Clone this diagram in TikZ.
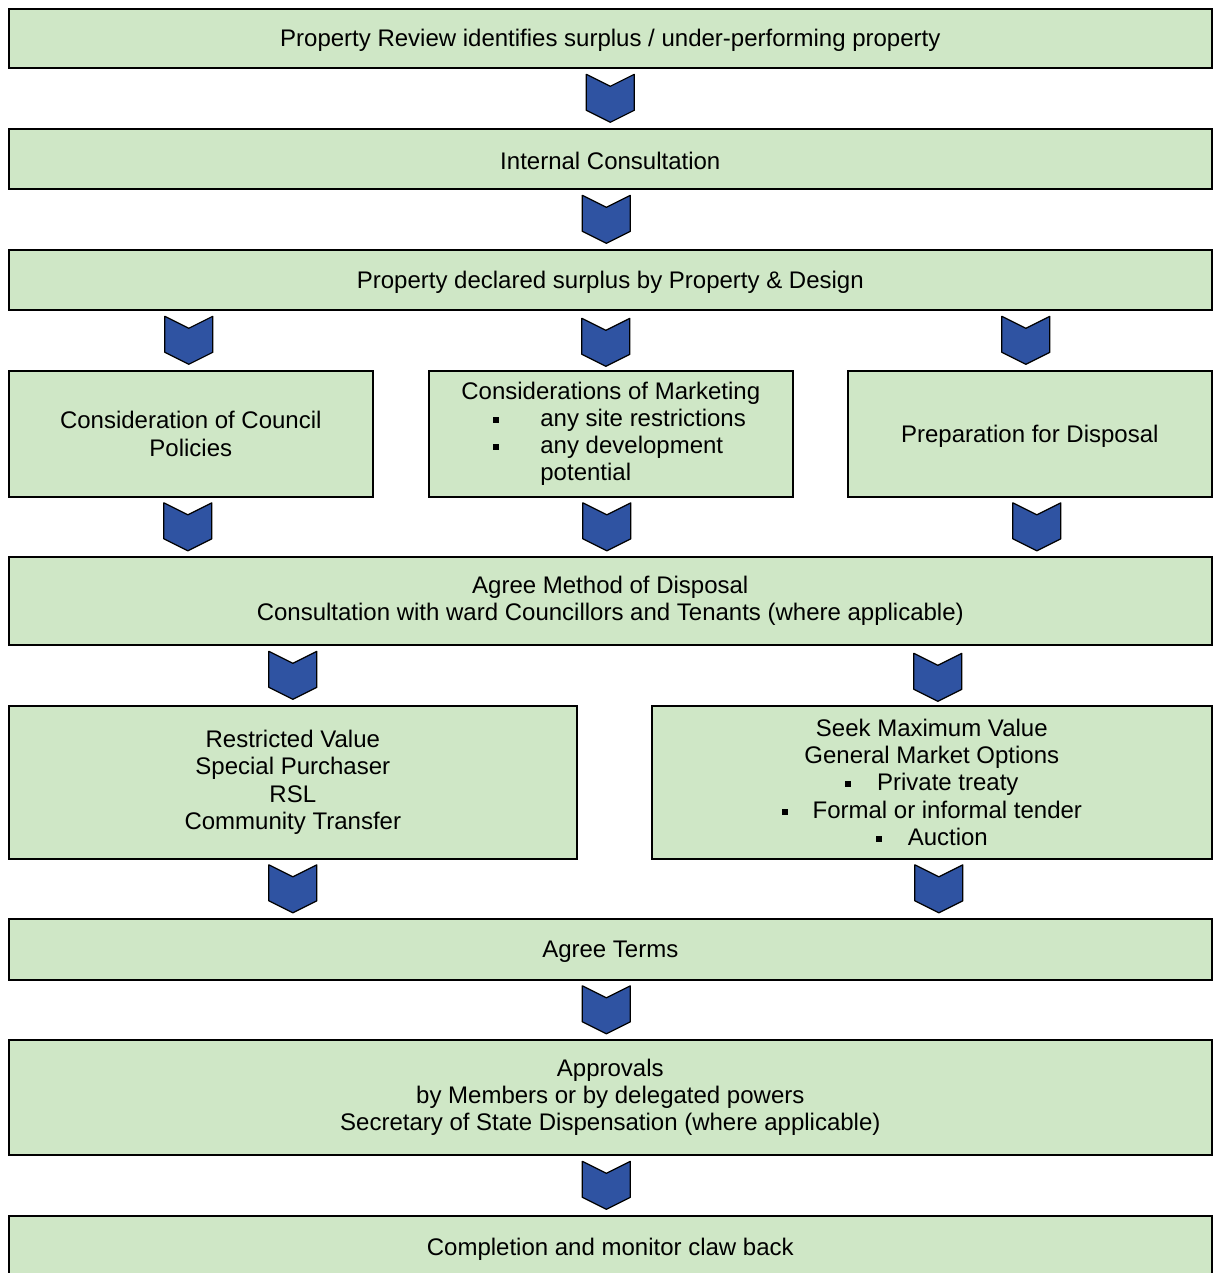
\documentclass[tikz,border=0pt]{standalone}
\usepackage{fontspec}
\setmainfont{Liberation Sans}
\usetikzlibrary{positioning,calc}

\definecolor{boxgreen}{RGB}{207,231,198}
\definecolor{chevblue}{RGB}{47,83,162}
\newcommand{\sqbul}{\rule[3.5pt]{6pt}{6pt}}

\tikzset{
  box/.style={draw, line width=1.6pt, fill=boxgreen, align=center,
    anchor=north west, inner sep=0pt,
    font=\fontsize{24}{27.3}\selectfont},
  oneline/.style={box, text height=21.5pt},
  chev/.pic={
    \draw[line width=1.2pt, fill=chevblue, line join=round]
      (-24,-24) -- (0,-12) -- (24,-24) -- (24,12) -- (0,24) -- (-24,12) -- cycle;
  }
}

\begin{document}
\begin{tikzpicture}[x=1pt,y=-1pt]
 \useasboundingbox (0,0) rectangle (1212,1273);
 % main column
 \node[oneline, minimum width=1203pt, minimum height=59pt] (review) at (8,8)
   {Property Review identifies surplus / under-performing property};
 \node[oneline, minimum width=1203pt, minimum height=60pt] (internal) at (8,128)
   {Internal Consultation};
 \node[oneline, minimum width=1203pt, minimum height=60pt] (declared) at (8,249)
   {Property declared surplus by Property \& Design};
 % three considerations
 \node[box, minimum width=364pt, minimum height=126pt] (policies) at (8,370)
   {Consideration of Council\\Policies};
 \node[box, minimum width=364pt, minimum height=126pt, align=left] (marketing) at (428,370)
   {Considerations of Marketing\\
    \hspace*{32pt}\sqbul\hspace{41pt}any site restrictions\\
    \hspace*{32pt}\sqbul\hspace{41pt}any development\\
    \hspace*{79pt}potential};
 \node[oneline, minimum width=364pt, minimum height=126pt] (preparation) at (847,370)
   {Preparation for Disposal};
 \node[box, minimum width=1203pt, minimum height=88pt] (method) at (8,556)
   {Agree Method of Disposal\\Consultation with ward Councillors and Tenants (where applicable)};
 % two routes
 \node[box, minimum width=568pt, minimum height=153pt] (restricted) at (8,705)
   {Restricted Value\\Special Purchaser\\RSL\\Community Transfer};
 \node[box, minimum width=560pt, minimum height=153pt] (maximum) at (651,705)
   {Seek Maximum Value\\General Market Options\\
    \sqbul\hspace{26pt}Private treaty\\
    \sqbul\hspace{25pt}Formal or informal tender\\
    \sqbul\hspace{26pt}Auction};
 \node[oneline, minimum width=1203pt, minimum height=61pt] (terms) at (8,918)
   {Agree Terms};
 \node[box, minimum width=1203pt, minimum height=115pt] (approvals) at (8,1039)
   {Approvals\\by Members or by delegated powers\\Secretary of State Dispensation (where applicable)};
 \node[oneline, minimum width=1203pt, minimum height=62pt] (completion) at (8,1215)
   {Completion and monitor claw back};

 % chevrons
 \pic at ($(review.south)!0.5!(internal.north)$) {chev};
 \pic[xshift=-4pt] at ($(internal.south)!0.5!(declared.north)$) {chev};
 \pic[xshift=-2pt] at ($(declared.south -| policies.north)!0.5!(policies.north)$) {chev};
 \pic[xshift=-5pt, yshift=-2pt] at ($(declared.south -| marketing.north)!0.5!(marketing.north)$) {chev};
 \pic[xshift=-4pt] at ($(declared.south -| preparation.north)!0.5!(preparation.north)$) {chev};
 \pic[xshift=-3pt] at ($(policies.south)!0.5!(policies.south |- method.north)$) {chev};
 \pic[xshift=-4pt] at ($(marketing.south)!0.5!(marketing.south |- method.north)$) {chev};
 \pic[xshift=7pt] at ($(preparation.south)!0.5!(preparation.south |- method.north)$) {chev};
 \pic at ($(method.south -| restricted.north)!0.5!(restricted.north)$) {chev};
 \pic[xshift=6pt, yshift=-2pt] at ($(method.south -| maximum.north)!0.5!(maximum.north)$) {chev};
 \pic at ($(restricted.south)!0.5!(restricted.south |- terms.north)$) {chev};
 \pic[xshift=7pt] at ($(maximum.south)!0.5!(maximum.south |- terms.north)$) {chev};
 \pic[xshift=-4pt] at ($(terms.south)!0.5!(approvals.north)$) {chev};
 \pic[xshift=-4pt] at ($(approvals.south)!0.5!(completion.north)$) {chev};
\end{tikzpicture}
\end{document}
